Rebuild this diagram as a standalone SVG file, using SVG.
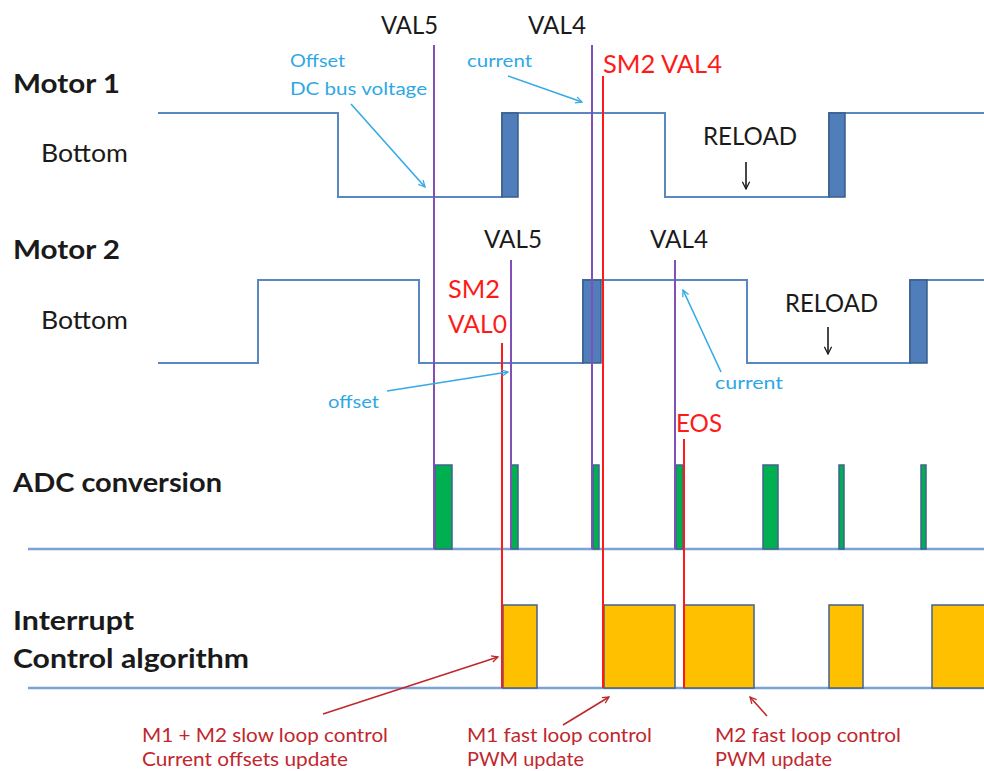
<svg xmlns="http://www.w3.org/2000/svg" width="984" height="771" viewBox="0 0 984 771">
  <style>
    .lbl { font-family: Lato, "Liberation Sans", Arial, sans-serif; font-weight: bold; font-size: 27px; fill: #1a1a1a; }
    .sub { font-family: Lato, "Liberation Sans", Arial, sans-serif; font-size: 25px; fill: #1a1a1a; }
    .val { font-family: Lato, "Liberation Sans", Arial, sans-serif; font-size: 25px; fill: #1a1a1a; }
    .red { font-family: Lato, "Liberation Sans", Arial, sans-serif; font-size: 25px; fill: #ff1a1a; }
    .blue { font-family: Lato, "Liberation Sans", Arial, sans-serif; font-size: 18px; fill: #2ea8e5; }
    .note { font-family: Lato, "Liberation Sans", Arial, sans-serif; font-size: 19px; fill: #c0272d; }
    .wave { fill: none; stroke: #5a87c2; stroke-width: 2; }
    .edge { fill: #4f7eba; stroke: #385d8a; stroke-width: 1.5; }
    .base { stroke: #7ba2d4; stroke-width: 2.5; }
    .adc { fill: #00b050; stroke: #41628f; stroke-width: 1.5; }
    .irq { fill: #ffc000; stroke: #41628f; stroke-width: 1.5; }
    .vp { stroke: #8050b8; stroke-width: 2; }
    .vr { stroke: #ff1a1a; stroke-width: 2; }
    .ab { stroke: #35aae6; stroke-width: 1.6; fill: none; marker-end: url(#hb); }
    .ar { stroke: #c0272d; stroke-width: 1.6; fill: none; marker-end: url(#hr); }
    .ak { stroke: #1a1a1a; stroke-width: 1.6; fill: none; marker-end: url(#hk); }
  </style>
  <defs>
    <marker id="hb" viewBox="0 0 10 10" refX="9" refY="5" markerWidth="8" markerHeight="8" markerUnits="userSpaceOnUse" orient="auto">
      <path d="M1,1 L9,5 L1,9" fill="none" stroke="#35aae6" stroke-width="1.6"/>
    </marker>
    <marker id="hr" viewBox="0 0 10 10" refX="9" refY="5" markerWidth="8" markerHeight="8" markerUnits="userSpaceOnUse" orient="auto">
      <path d="M1,1 L9,5 L1,9" fill="none" stroke="#c0272d" stroke-width="1.6"/>
    </marker>
    <marker id="hk" viewBox="0 0 10 10" refX="9" refY="5" markerWidth="9" markerHeight="9" markerUnits="userSpaceOnUse" orient="auto">
      <path d="M1,1 L9,5 L1,9" fill="none" stroke="#1a1a1a" stroke-width="1.4"/>
    </marker>
  </defs>
  <rect width="984" height="771" fill="#ffffff"/>

  <g id="row-labels">
    <text class="lbl" x="13" y="93" textLength="107" lengthAdjust="spacingAndGlyphs">Motor 1</text>
    <text class="sub" x="41" y="162" textLength="87" lengthAdjust="spacingAndGlyphs">Bottom</text>
    <text class="lbl" x="13" y="259" textLength="107" lengthAdjust="spacingAndGlyphs">Motor 2</text>
    <text class="sub" x="41" y="329" textLength="87" lengthAdjust="spacingAndGlyphs">Bottom</text>
    <text class="lbl" x="13" y="492" textLength="209" lengthAdjust="spacingAndGlyphs">ADC conversion</text>
    <text class="lbl" x="13" y="630" textLength="121" lengthAdjust="spacingAndGlyphs">Interrupt</text>
    <text class="lbl" x="13" y="668" textLength="236" lengthAdjust="spacingAndGlyphs">Control algorithm</text>
  </g>

  <g id="motor1">
    <path class="wave" d="M158,113 H338 V197 H502 V113 H665 V197 H829 V113 H984"/>
    <rect class="edge" x="502" y="113" width="16" height="84"/>
    <rect class="edge" x="829" y="113" width="16" height="84"/>
    <text class="val" x="703" y="145" textLength="94" lengthAdjust="spacingAndGlyphs">RELOAD</text>
  </g>

  <g id="motor2">
    <path class="wave" d="M158,363 H258 V280 H419 V363 H583 V280 H747 V363 H910 V280 H984"/>
    <rect class="edge" x="583" y="280" width="18" height="83"/>
    <rect class="edge" x="910" y="280" width="17" height="83"/>
    <text class="val" x="785" y="312" textLength="93" lengthAdjust="spacingAndGlyphs">RELOAD</text>
  </g>

  <g id="adc">
    <line class="base" x1="28" y1="549" x2="984" y2="549"/>
    <rect class="adc" x="435" y="465" width="17" height="84"/>
    <rect class="adc" x="511" y="465" width="7" height="84"/>
    <rect class="adc" x="593" y="465" width="6" height="84"/>
    <rect class="adc" x="676" y="465" width="7" height="84"/>
    <rect class="adc" x="763" y="465" width="15" height="84"/>
    <rect class="adc" x="839" y="465" width="5" height="84"/>
    <rect class="adc" x="921" y="465" width="5" height="84"/>
  </g>

  <g id="interrupt">
    <line class="base" x1="28" y1="688" x2="984" y2="688"/>
    <rect class="irq" x="503" y="605" width="34" height="83"/>
    <rect class="irq" x="604" y="605" width="71" height="83"/>
    <rect class="irq" x="684" y="605" width="70" height="83"/>
    <rect class="irq" x="829" y="605" width="34" height="83"/>
    <rect class="irq" x="932" y="605" width="60" height="83"/>
  </g>

  <g id="markers">
    <line class="vp" x1="434" y1="45" x2="434" y2="549"/>
    <line class="vp" x1="592" y1="45" x2="592" y2="549"/>
    <line class="vp" x1="511" y1="260" x2="511" y2="549"/>
    <line class="vp" x1="675" y1="260" x2="675" y2="549"/>
    <line class="vr" x1="502" y1="343" x2="502" y2="688"/>
    <line class="vr" x1="603" y1="76" x2="603" y2="688"/>
    <line class="vr" x1="684" y1="439" x2="684" y2="688"/>
    <text class="val" x="381" y="34" textLength="57" lengthAdjust="spacingAndGlyphs">VAL5</text>
    <text class="val" x="528" y="34" textLength="58" lengthAdjust="spacingAndGlyphs">VAL4</text>
    <text class="red" x="603" y="73" textLength="119" lengthAdjust="spacingAndGlyphs">SM2 VAL4</text>
    <text class="val" x="484" y="248" textLength="58" lengthAdjust="spacingAndGlyphs">VAL5</text>
    <text class="val" x="650" y="248" textLength="58" lengthAdjust="spacingAndGlyphs">VAL4</text>
    <text class="red" x="448" y="298" textLength="52" lengthAdjust="spacingAndGlyphs">SM2</text>
    <text class="red" x="448" y="333" textLength="59" lengthAdjust="spacingAndGlyphs">VAL0</text>
    <text class="red" x="676" y="432" textLength="46" lengthAdjust="spacingAndGlyphs">EOS</text>
  </g>

  <g id="annotations">
    <text class="blue" x="290" y="67" textLength="55" lengthAdjust="spacingAndGlyphs">Offset</text>
    <text class="blue" x="290" y="95" textLength="137" lengthAdjust="spacingAndGlyphs">DC bus voltage</text>
    <text class="blue" x="467" y="67" textLength="65" lengthAdjust="spacingAndGlyphs">current</text>
    <text class="blue" x="715" y="389" textLength="68" lengthAdjust="spacingAndGlyphs">current</text>
    <text class="blue" x="328" y="408" textLength="51" lengthAdjust="spacingAndGlyphs">offset</text>
    <text class="note" x="142" y="742" textLength="246" lengthAdjust="spacingAndGlyphs">M1 + M2 slow loop control</text>
    <text class="note" x="142" y="766" textLength="206" lengthAdjust="spacingAndGlyphs">Current offsets update</text>
    <text class="note" x="467" y="742" textLength="185" lengthAdjust="spacingAndGlyphs">M1 fast loop control</text>
    <text class="note" x="467" y="766" textLength="117" lengthAdjust="spacingAndGlyphs">PWM update</text>
    <text class="note" x="715" y="742" textLength="186" lengthAdjust="spacingAndGlyphs">M2 fast loop control</text>
    <text class="note" x="715" y="766" textLength="117" lengthAdjust="spacingAndGlyphs">PWM update</text>
  </g>

  <g id="connectors">
    <line class="ab" x1="351" y1="104" x2="425" y2="187"/>
    <line class="ab" x1="508" y1="76" x2="582" y2="102"/>
    <line class="ab" x1="387" y1="391" x2="508" y2="372"/>
    <line class="ab" x1="721" y1="372" x2="683" y2="290"/>
    <line class="ak" x1="746" y1="162" x2="746" y2="189"/>
    <line class="ak" x1="828" y1="327" x2="828" y2="354"/>
    <line class="ar" x1="323" y1="714" x2="498" y2="657"/>
    <line class="ar" x1="563" y1="725" x2="609" y2="697"/>
    <line class="ar" x1="767" y1="716" x2="750" y2="697"/>
  </g>
</svg>
